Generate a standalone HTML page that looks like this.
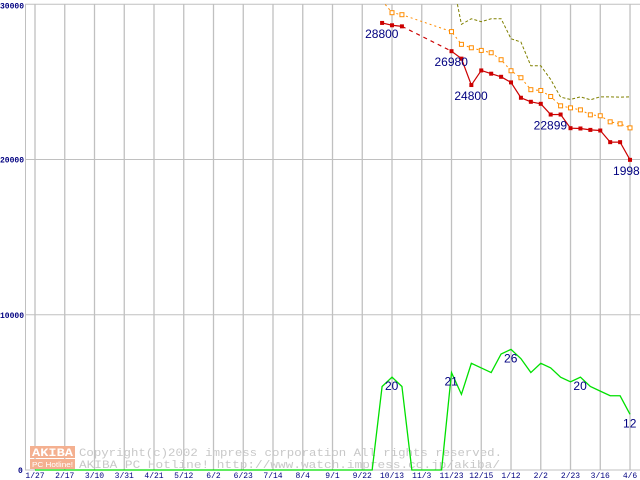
<!DOCTYPE html>
<html><head><meta charset="utf-8"><style>
html,body{margin:0;padding:0;background:#fff;}
svg{display:block;}
</style></head><body>
<svg id="chart" width="640" height="480" xmlns="http://www.w3.org/2000/svg">
<g id="grid"></g>
<g id="wm">
  <rect x="30" y="446" width="45" height="12" fill="#f4b090"/>
  <text x="32" y="456" font-family="Liberation Mono, monospace" font-size="11" font-weight="bold" fill="#fff" textLength="41" lengthAdjust="spacingAndGlyphs">AKIBA</text>
  <rect x="30" y="459" width="45" height="10" fill="#f4b090"/>
  <text x="32" y="467" font-family="Liberation Sans, sans-serif" font-size="7" fill="#fff" textLength="41" lengthAdjust="spacingAndGlyphs">PC Hotline!</text>
  <text x="79" y="456" font-family="Liberation Mono, monospace" font-size="11" fill="#c8c8c8" textLength="423" lengthAdjust="spacingAndGlyphs">Copyright(c)2002 impress corporation All rights reserved.</text>
  <text x="79" y="468" font-family="Liberation Mono, monospace" font-size="11" fill="#c8c8c8" textLength="421" lengthAdjust="spacingAndGlyphs">AKIBA PC Hotline!  http://www.watch.impress.co.jp/akiba/</text>
</g>
<g id="series"></g>
<g id="labels"></g>
</svg>
<script>
const xTickLabels=["1/27","2/17","3/10","3/31","4/21","5/12","6/2","6/23","7/14","8/4","9/1","9/22","10/13","11/3","11/23","12/15","1/12","2/2","2/23","3/16","4/6"];
const yTicks=[0,10000,20000,30000];
const minWeeks=[35,36,37,42,43,44,45,46,47,48,49,50,51,52,53,54,55,56,57,58,59,60];
const minPrice=[28800,28650,28580,26980,26500,24800,25740,25530,25330,24970,23980,23720,23590,22899,22900,22020,22000,21910,21870,21120,21120,19980];
const avgPrice=[30240,29460,29330,28240,27420,27200,27030,26880,26430,25720,25270,24500,24450,24060,23460,23330,23200,22880,22820,22430,22300,22040];
const maxWeeks=[42,43,44,45,46,47,48,49,50,51,52,53,54,55,56,57,58,59,60];
const maxPrice=[31900,28710,29070,28880,29070,29070,27780,27570,26040,26040,25160,24020,23870,24040,23850,24040,24040,24020,24040];
const shopCount=[0,0,0,0,0,0,0,0,0,0,0,0,0,0,0,0,0,0,0,0,0,0,0,0,0,0,0,0,0,0,0,0,0,0,0,18,20,18,0,0,0,0,21,16.3,23,22,21,25,26,24,21,23,22,20,19,20,18,17,16,16,12];
const priceLabels=[[35,28800,"28800"],[42,26980,"26980"],[44,24800,"24800"],[52,22899,"22899"],[60,19980,"19980"]];
const shopLabels=[[36,20,"20"],[42,21,"21"],[48,26,"26"],[55,20,"20"],[60,12,"12"]];

const NS="http://www.w3.org/2000/svg";
const X=i=>35+i*9.917;
const Y=v=>470-v*0.015523;
const YS=s=>470-s*4.64;
function mk(tag,attrs,parent){const e=document.createElementNS(NS,tag);for(const k in attrs)e.setAttribute(k,attrs[k]);parent.appendChild(e);return e;}
const grid=document.getElementById('grid'),ser=document.getElementById('series'),lab=document.getElementById('labels');
yTicks.forEach(v=>{
  const l=mk('line',{x1:25,x2:640,y1:Y(v),y2:Y(v),stroke:'#c0c0c0','stroke-width':1},grid);
  
  
  const s=String(v);
  const attrs={x:v===0?18:0,y:Y(v)+(v===30000?4:3),'font-family':'Liberation Mono, monospace','font-size':8,'font-weight':'bold',fill:'#000080'};
  if(v!==0){attrs.textLength=24;attrs.lengthAdjust='spacingAndGlyphs';}
  const t=mk('text',attrs,grid);
  t.textContent=s;
  
  
});
mk('line',{x1:25.5,x2:25.5,y1:4,y2:470,stroke:'#c0c0c0'},grid);
xTickLabels.forEach((s,k)=>{
  const x=X(k*3);
  const l=mk('line',{x1:x,x2:x,y1:4,y2:470,stroke:'#c0c0c0','stroke-width':1.3},grid);
  
  
  const t=mk('text',{x:x,y:478,'text-anchor':'middle','font-family':'Liberation Mono, monospace','font-size':8,fill:'#000080'},grid);
  t.textContent=s;
  
  
});
let p=shopCount.map((s,i)=>X(i)+','+YS(s)).join(' ');
const g=mk('polyline',{points:p,fill:'none',stroke:'#00e000','stroke-width':1.3},ser);


const cp=mk('clipPath',{id:'clip'},ser);mk('rect',{x:0,y:4,width:640,height:470},cp);
const mx=mk('polyline',{points:maxWeeks.map((w,i)=>X(w)+','+Y(maxPrice[i])).join(' '),fill:'none',stroke:'#808000','stroke-width':1,'stroke-dasharray':'3,2','clip-path':'url(#clip)'},ser);


const av=mk('polyline',{points:minWeeks.map((w,i)=>X(w)+','+Y(avgPrice[i])).join(' '),fill:'none',stroke:'#ff8c00','stroke-width':1,'stroke-dasharray':'2,3','clip-path':'url(#clip)'},ser);


minWeeks.forEach((w,i)=>{
  const r=mk('rect',{x:X(w)-2,y:Y(avgPrice[i])-2,width:4,height:4,fill:'#fff',stroke:'#ff8c00','stroke-width':1,'clip-path':'url(#clip)'},ser);
  
  
});
for(let i=0;i<minWeeks.length-1;i++){
  const gap=minWeeks[i+1]-minWeeks[i]>1;
  const l=mk('line',{x1:X(minWeeks[i]),y1:Y(minPrice[i]),x2:X(minWeeks[i+1]),y2:Y(minPrice[i+1]),stroke:'#cc0000','stroke-width':1.2},ser);
  if(gap)l.setAttribute('stroke-dasharray','4,4');
  
  
}
minWeeks.forEach((w,i)=>{
  const r=mk('rect',{x:X(w)-2,y:Y(minPrice[i])-2,width:4,height:4,fill:'#cc0000'},ser);
  
  
});
priceLabels.forEach(([w,v,s])=>{
  const t=mk('text',{x:X(w)-17,y:Y(v)+15,'font-family':'Liberation Sans, sans-serif','font-size':12,fill:'#000080'},lab);
  t.textContent=s;
  
  
});
shopLabels.forEach(([w,v,s])=>{
  const t=mk('text',{x:X(w)-7,y:YS(v)+13,'font-family':'Liberation Sans, sans-serif','font-size':12,fill:'#000080'},lab);
  t.textContent=s;
  
  
});
</script>
</body></html>
